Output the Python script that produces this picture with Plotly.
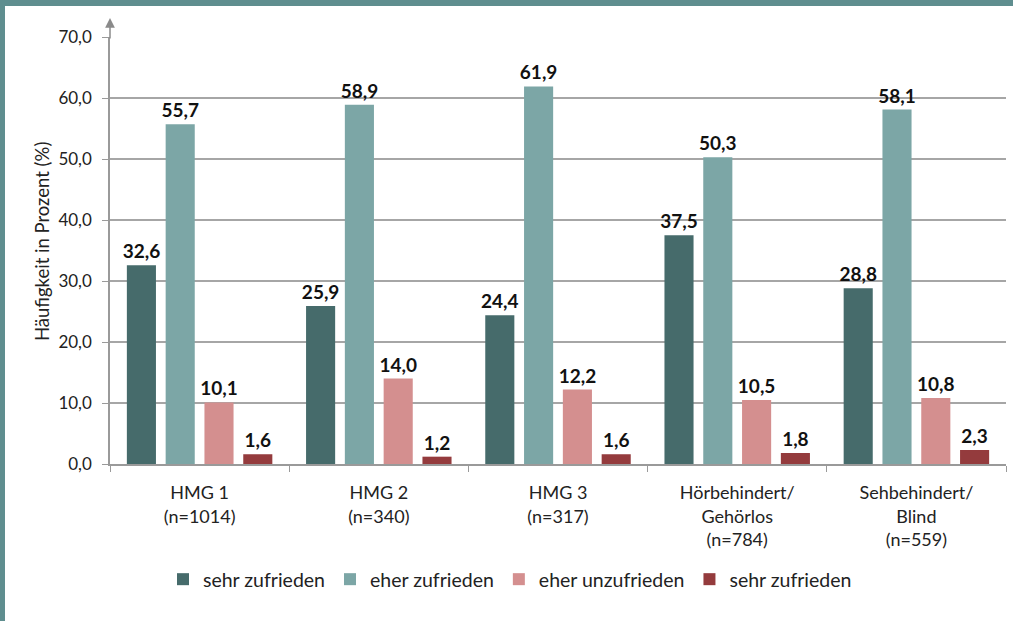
import plotly.graph_objects as go

categories = ["HMG 1<br>(n=1014)", "HMG 2<br>(n=340)", "HMG 3<br>(n=317)",
              "Hörbehindert/<br>Gehörlos<br>(n=784)", "Sehbehindert/<br>Blind<br>(n=559)"]
series_names = ["sehr zufrieden", "eher zufrieden", "eher unzufrieden", "sehr zufrieden"]
sehr_zufrieden = [32.6, 25.9, 24.4, 37.5, 28.8]
eher_zufrieden = [55.7, 58.9, 61.9, 50.3, 58.1]
eher_unzufrieden = [10.1, 14.0, 12.2, 10.5, 10.8]
sehr_unzufrieden = [1.6, 1.2, 1.6, 1.8, 2.3]
y_ticks = [0, 10, 20, 30, 40, 50, 60, 70]
y_title = "Häufigkeit in Prozent (%)"

colors = ["#466b6b", "#7ca6a6", "#d48f8f", "#943b3d"]
series_values = [sehr_zufrieden, eher_zufrieden, eher_unzufrieden, sehr_unzufrieden]

FONT = "Lato"
fig = go.Figure()
for name, vals, col in zip(series_names, series_values, colors):
    fig.add_trace(go.Bar(
        x=categories, y=vals, name=name,
        marker=dict(color=col, line=dict(width=0)),
        text=[f"{v:.1f}".replace(".", ",") for v in vals],
        textposition="outside", cliponaxis=False, constraintext="none",
        textfont=dict(family=FONT, size=19, color="#111111", weight="bold"),
    ))

W, H = 1013, 621
ml, mr, mt, mb = 110, 7, 37, 157
pw, ph = W - ml - mr, H - mt - mb

fig.update_layout(
    width=W, height=H,
    margin=dict(l=ml, r=mr, t=mt, b=mb, pad=0, autoexpand=False),
    paper_bgcolor="white", plot_bgcolor="white",
    barmode="group", bargap=0.134, bargroupgap=0.25,
    separators=",.",
    font=dict(family=FONT, size=17, color="#222222"),
    showlegend=True,
    legend=dict(orientation="h", x=(510 - ml) / pw, xanchor="center",
                y=-(560 - mt - ph) / ph, yanchor="top",
                font=dict(family=FONT, size=19.5, color="#222222"),
                traceorder="normal", itemwidth=30),
    xaxis=dict(type="category", showline=True, linecolor="#9a9a9a", linewidth=1.5,
               ticks="outside", tickson="boundaries", ticklen=6, tickcolor="#9a9a9a",
               ticklabelstandoff=12,
               tickfont=dict(family=FONT, size=18, color="#222222"), showgrid=False),
    yaxis=dict(range=[0, 70], tickvals=y_ticks, tickformat=".1f",
               showline=True, linecolor="#9a9a9a", linewidth=1.5,
               ticks="outside", ticklen=6, tickcolor="#9a9a9a", ticklabelstandoff=7,
               showgrid=True, gridcolor="#a6a6a6", gridwidth=1.5, zeroline=False,
               tickfont=dict(family=FONT, size=17, color="#222222")),
)

# y axis title
fig.add_annotation(x=(42 - ml) / pw, xref="paper", y=(ph + mt - 242) / ph, yref="paper",
                   text=y_title, textangle=-90, showarrow=False,
                   xanchor="center", yanchor="middle",
                   font=dict(family=FONT, size=18.5, color="#222222"))

# arrow on top of y axis
fig.add_annotation(x=0, xref="paper", y=1 + 19 / ph, yref="paper",
                   ax=0, ay=22, axref="pixel", ayref="pixel",
                   showarrow=True, arrowhead=2, arrowsize=1.3, arrowwidth=1.5,
                   arrowcolor="#8a8a8a", text="")

# teal frame at top and left
border = "#5f8e8f"
fig.add_shape(type="rect", xref="paper", yref="paper",
              x0=-ml / pw, x1=1 + mr / pw, y0=1 + (mt - 6) / ph, y1=1 + mt / ph,
              fillcolor=border, line=dict(width=0), layer="above")
fig.add_shape(type="rect", xref="paper", yref="paper",
              x0=-ml / pw, x1=-(ml - 5) / pw, y0=-mb / ph, y1=1 + mt / ph,
              fillcolor=border, line=dict(width=0), layer="above")

fig.write_html("out.html", config={"displayModeBar": False},
               post_script="document.body.style.margin='0px';")
